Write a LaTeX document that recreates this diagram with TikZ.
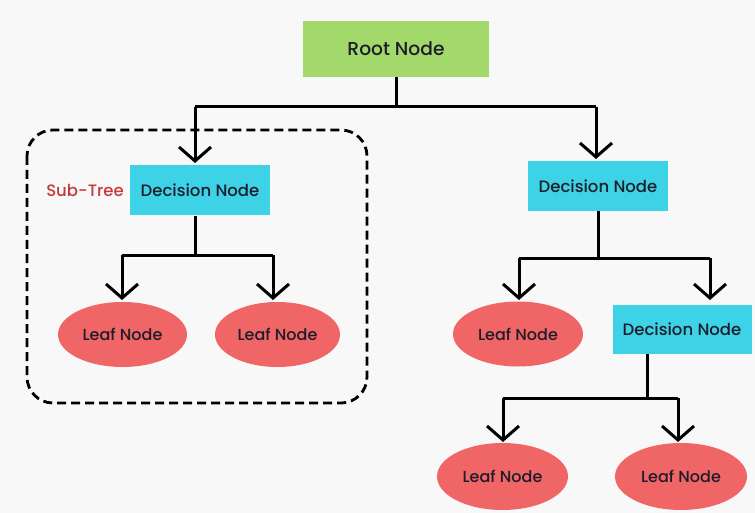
\documentclass[tikz,border=0pt]{standalone}
\usepackage{fontspec}
\setmainfont{Poppins Medium}
\usetikzlibrary{arrows.meta,shapes.geometric}
\definecolor{bgc}{HTML}{F8F8F8}
\definecolor{rootc}{HTML}{A3D96A}
\definecolor{decc}{HTML}{3DD2E6}
\definecolor{leafc}{HTML}{F06565}
\definecolor{txtc}{HTML}{1C1C2A}
\definecolor{subc}{HTML}{C43A3C}
\tikzset{
  rootbox/.style={fill=rootc, minimum width=186pt, minimum height=56pt, font=\fontsize{18.7}{22}\selectfont, text=txtc, inner sep=0pt},
  decbox/.style={fill=decc, minimum width=140pt, minimum height=50pt, font=\fontsize{16.5}{19}\selectfont, text=txtc, inner sep=0pt},
  leafell/.style={ellipse, fill=leafc, minimum width=129pt, minimum height=65pt, font=\fontsize{16}{19}\selectfont, text=txtc, inner sep=0pt},
  conn/.style={line width=3pt},
  arr/.style={line width=3pt, -{Straight Barb[length=14pt, width=32pt, line width=3pt]}},
}
\begin{document}
\begin{tikzpicture}[x=1pt, y=-1pt]
\useasboundingbox (0,0) rectangle (755,513);
\fill[bgc] (0,0) rectangle (755,513);
% sub-tree frame
\draw[line width=2.8pt, dash pattern=on 9pt off 5pt, rounded corners=26pt] (27,130) rectangle (367,403);
% nodes
\node[rootbox] (root) at (396,49) {Root Node};
\node[decbox] (d1) at (200,190.5) {Decision Node};
\node[decbox] (d2) at (598,186) {Decision Node};
\node[decbox, minimum width=139pt, minimum height=49pt] (d3) at (682,329.5) {Decision Node};
\node[leafell] (l1) at (122.5,334.5) {Leaf Node};
\node[leafell, minimum width=125pt] (l2) at (277.5,334.5) {Leaf Node};
\node[leafell, minimum width=130pt] (l3) at (518,334) {Leaf Node};
\node[leafell, minimum width=131pt, minimum height=67pt] (l4) at (502.5,476.5) {Leaf Node};
\node[leafell, minimum width=132pt, minimum height=67pt] (l5) at (681,476.5) {Leaf Node};
\node[text=subc, font=\fontsize{16.5}{19}\selectfont, anchor=east, inner sep=0pt] (sub) at (124,190) {Sub-Tree};
% junction coordinates
\coordinate (j0) at (396,107);
\coordinate (j0l) at (195,107);
\coordinate (j0r) at (596,107);
\coordinate (j1) at (195,255);
\coordinate (j1l) at (122,255);
\coordinate (j1r) at (273,255);
\coordinate (j2) at (598,258);
\coordinate (j2l) at (519,258);
\coordinate (j2r) at (710,258);
\coordinate (j3) at (647,398);
\coordinate (j3l) at (503,398);
\coordinate (j3r) at (678,398);
% connectors
\draw[conn] (root.south) -- (j0);
\draw[conn] (j0l) -- (j0r);
\draw[arr] (j0l) -- (195,163);
\draw[arr] (j0r) -- (596,159);
\draw[conn] (d1.south -| j1) -- (j1);
\draw[conn] (j1l) -- (j1r);
\draw[arr] (j1l) -- (122,300);
\draw[arr] (j1r) -- (273,300);
\draw[conn] (d2.south) -- (j2);
\draw[conn] (j2l) -- (j2r);
\draw[arr] (j2l) -- (519,300);
\draw[arr] (j2r) -- (710,300);
\draw[conn] (d3.south -| j3) -- (j3);
\draw[conn] (j3l) -- (j3r);
\draw[arr] (j3l) -- (503,442);
\draw[arr] (j3r) -- (678,442);
\end{tikzpicture}
\end{document}
